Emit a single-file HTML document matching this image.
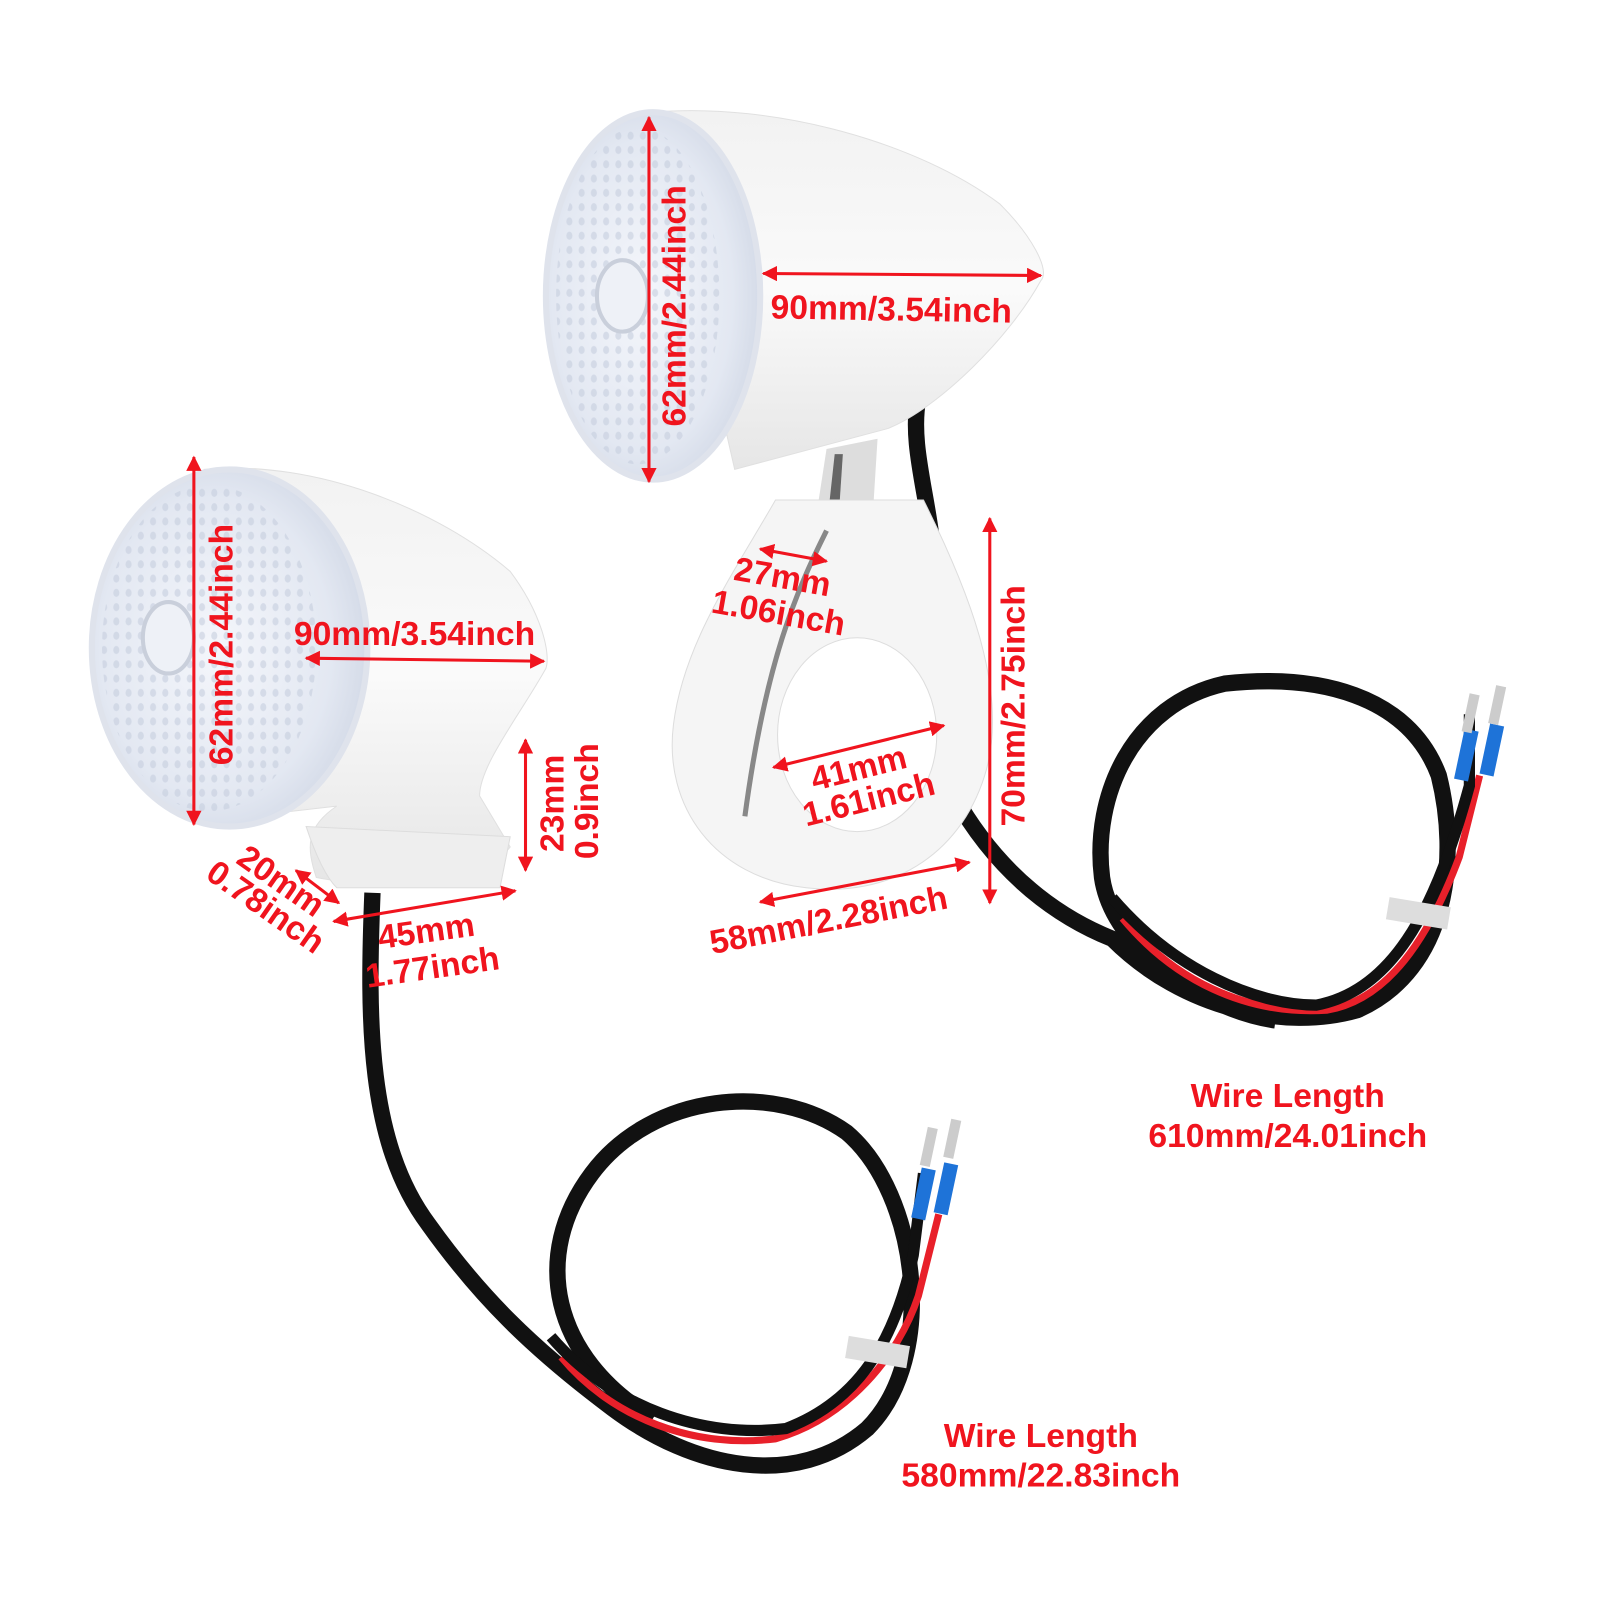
<!DOCTYPE html>
<html><head><meta charset="utf-8"><style>
html,body{margin:0;padding:0;background:#fff;}
svg{display:block;}
text{font-family:"Liberation Sans","DejaVu Sans",sans-serif;fill:#f0141e;font-weight:bold;}
</style></head><body>
<svg width="1600" height="1600" viewBox="0 0 1568 1568" xmlns="http://www.w3.org/2000/svg">
<defs>
<radialGradient id="lens" cx="0.45" cy="0.5" r="0.6">
<stop offset="0" stop-color="#f4f6fb"/><stop offset="0.7" stop-color="#e3e8f2"/><stop offset="1" stop-color="#cfd6e4"/>
</radialGradient>
<pattern id="hex" width="12" height="14" patternUnits="userSpaceOnUse">
<ellipse cx="6" cy="7" rx="3" ry="4" fill="#c6cede"/>
</pattern>
<linearGradient id="body" x1="0" y1="0" x2="0" y2="1">
<stop offset="0" stop-color="#f2f2f2"/><stop offset="0.5" stop-color="#fafafa"/><stop offset="1" stop-color="#e6e6e6"/>
</linearGradient>
<marker id="ar" viewBox="0 0 10 10" refX="9" refY="5" markerWidth="5" markerHeight="5" orient="auto-start-reverse"><path d="M0,0L10,5L0,10z" fill="#f0141e"/></marker>
</defs>

<!-- wires top -->
<path d="M900,390 C890,440 915,500 915,560" stroke="#111" stroke-width="16" fill="none"/>
<path d="M935,780 C980,860 1040,900 1090,920 C1160,990 1260,1010 1330,990 C1420,950 1430,840 1410,760 C1380,680 1290,660 1200,670 C1110,690 1070,780 1080,860 C1090,930 1180,990 1250,1000" stroke="#111" stroke-width="16" fill="none"/>
<path d="M1100,900 C1150,960 1220,995 1300,990 C1360,980 1400,920 1430,840 L1450,760" stroke="#e8202a" stroke-width="7" fill="none"/>
<path d="M1090,880 C1150,950 1230,985 1290,985 C1370,970 1410,880 1440,770 L1440,700" stroke="#111" stroke-width="11" fill="none"/>
<path d="M1360,890 l60,10" stroke="#ddd" stroke-width="22"/>
<rect x="1430" y="715" width="14" height="50" fill="#1e73d8" transform="rotate(12 1437 740)"/>
<rect x="1455" y="710" width="14" height="50" fill="#1e73d8" transform="rotate(12 1462 735)"/>
<rect x="1436" y="680" width="10" height="38" fill="#ccc" transform="rotate(12 1441 700)"/>
<rect x="1462" y="672" width="10" height="38" fill="#ccc" transform="rotate(12 1467 692)"/>

<!-- wires bottom -->
<path d="M365,875 C360,1000 360,1120 420,1200 C470,1270 520,1320 600,1380 C680,1440 780,1460 850,1400 C920,1330 900,1170 830,1110 C760,1060 640,1070 580,1150 C520,1230 540,1330 640,1390" stroke="#111" stroke-width="16" fill="none"/>
<path d="M550,1330 C600,1390 680,1420 760,1410 C830,1390 880,1330 900,1270 L920,1190" stroke="#e8202a" stroke-width="7" fill="none"/>
<path d="M540,1310 C600,1380 690,1410 770,1400 C850,1370 880,1300 895,1230 L905,1150" stroke="#111" stroke-width="11" fill="none"/>
<path d="M830,1320 l60,10" stroke="#ddd" stroke-width="22"/>
<rect x="898" y="1145" width="14" height="50" fill="#1e73d8" transform="rotate(12 905 1170)"/>
<rect x="920" y="1140" width="14" height="50" fill="#1e73d8" transform="rotate(12 927 1165)"/>
<rect x="905" y="1105" width="10" height="38" fill="#ccc" transform="rotate(12 910 1125)"/>
<rect x="928" y="1097" width="10" height="38" fill="#ccc" transform="rotate(12 933 1117)"/>

<!-- top light body -->
<path d="M640,110 C760,100 900,140 980,200 C1010,230 1030,265 1020,275 C990,330 920,400 870,420 L720,460 Z" fill="url(#body)" stroke="#e0e0e0"/>
<path d="M810,440 L860,430 L855,510 L800,505 Z" fill="#ddd"/>
<path d="M818,445 L826,445 L822,505 L812,500 Z" fill="#666"/>
<path d="M760,490 L905,490 C950,580 990,680 965,760 C940,840 870,880 790,870 C700,860 650,790 660,710 C670,630 720,560 760,490 Z" fill="#f5f5f5" stroke="#ddd"/>
<ellipse cx="840" cy="720" rx="78" ry="95" fill="#fff" stroke="#ddd"/>
<path d="M810,520 C780,580 750,650 730,800" stroke="#888" stroke-width="5" fill="none"/>
<ellipse cx="640" cy="290" rx="105" ry="180" fill="url(#lens)" stroke="#dfe3ec" stroke-width="6"/>
<ellipse cx="625" cy="290" rx="80" ry="165" fill="url(#hex)" opacity="0.6"/>
<ellipse cx="610" cy="290" rx="25" ry="35" fill="#eef1f7" stroke="#c9cfdb" stroke-width="4"/>

<!-- left light body -->
<path d="M200,460 C310,450 430,500 500,560 C530,600 540,640 535,655 C510,700 470,750 470,780 L500,830 C470,870 360,870 310,860 C300,830 300,810 330,790 L200,805 Z" fill="url(#body)" stroke="#e0e0e0"/>
<path d="M300,810 C310,840 320,860 330,870 L490,870 L500,820 Z" fill="#eee" stroke="#ddd"/>
<ellipse cx="225" cy="635" rx="135" ry="175" fill="url(#lens)" stroke="#dfe3ec" stroke-width="6"/>
<ellipse cx="205" cy="635" rx="105" ry="160" fill="url(#hex)" opacity="0.6"/>
<ellipse cx="165" cy="625" rx="25" ry="35" fill="#eef1f7" stroke="#c9cfdb" stroke-width="4"/>

<!-- dimension arrows -->
<g stroke="#f0141e" stroke-width="3" fill="none" marker-start="url(#ar)" marker-end="url(#ar)">
<line x1="636" y1="115" x2="636" y2="472"/>
<line x1="748" y1="268" x2="1020" y2="270"/>
<line x1="190" y1="448" x2="190" y2="808"/>
<line x1="300" y1="645" x2="533" y2="648"/>
<line x1="515" y1="725" x2="515" y2="853"/>
<line x1="290" y1="853" x2="332" y2="885"/>
<line x1="327" y1="903" x2="505" y2="873"/>
<line x1="745" y1="538" x2="810" y2="550"/>
<line x1="970" y1="508" x2="970" y2="885"/>
<line x1="758" y1="752" x2="925" y2="711"/>
<line x1="745" y1="884" x2="950" y2="845"/>
</g>

<g font-size="33">
<text x="755" y="312" transform="rotate(1 755 312)">90mm/3.54inch</text>
<text x="288" y="632">90mm/3.54inch</text>
<text transform="translate(672,418) rotate(-90)">62mm/2.44inch</text>
<text transform="translate(228,750) rotate(-90)">62mm/2.44inch</text>
<text transform="translate(552,835) rotate(-90)">23mm</text>
<text transform="translate(586,842) rotate(-90)">0.9inch</text>
<text transform="translate(1004,810) rotate(-90)">70mm/2.75inch</text>
<text transform="translate(718,568) rotate(10)">27mm</text>
<text transform="translate(696,600) rotate(10)">1.06inch</text>
<text transform="translate(798,775) rotate(-14)">41mm</text>
<text transform="translate(790,810) rotate(-14)">1.61inch</text>
<text transform="translate(698,935) rotate(-11)">58mm/2.28inch</text>
<text transform="translate(230,845) rotate(35)">20mm</text>
<text transform="translate(200,860) rotate(35)">0.78inch</text>
<text transform="translate(372,930) rotate(-8)">45mm</text>
<text transform="translate(360,968) rotate(-8)">1.77inch</text>
<text x="1262" y="1085" text-anchor="middle">Wire Length</text>
<text x="1262" y="1124" text-anchor="middle">610mm/24.01inch</text>
<text x="1020" y="1418" text-anchor="middle">Wire Length</text>
<text x="1020" y="1457" text-anchor="middle">580mm/22.83inch</text>
</g>
</svg>
</body></html>
